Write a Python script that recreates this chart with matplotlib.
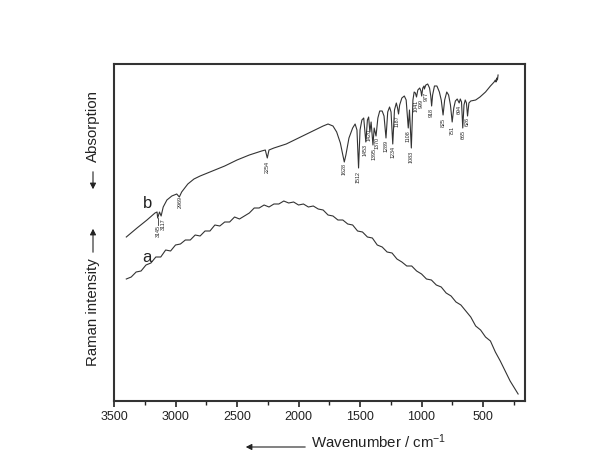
import matplotlib
matplotlib.use("Agg")
import matplotlib.pyplot as plt
from matplotlib.ticker import MultipleLocator

plt.rcParams['font.family'] = ['Liberation Sans', 'DejaVu Sans']
plt.rcParams['mathtext.fontset'] = 'custom'
plt.rcParams['mathtext.rm'] = 'Liberation Sans'
plt.rcParams['mathtext.it'] = 'Liberation Sans'

# ---- curve a: Raman spectrum (wavenumber, intensity a.u.) ----
raman_wn = [3400, 3360, 3320, 3280, 3240, 3200, 3160, 3120, 3080, 3040, 3000, 2960,
            2920, 2880, 2840, 2800, 2760, 2720, 2680, 2640, 2600, 2560, 2520, 2480,
            2440, 2400, 2360, 2320, 2280, 2240, 2200, 2160, 2120, 2080, 2040, 2000,
            1960, 1920, 1880, 1840, 1800, 1760, 1720, 1680, 1640, 1600, 1560, 1520,
            1480, 1440, 1400, 1360, 1320, 1280, 1240, 1200, 1160, 1120, 1080, 1040,
            1000, 960, 920, 880, 840, 800, 760, 720, 680, 640, 600, 560, 520, 480,
            440, 400, 360, 320, 280, 240, 215]
raman_int = [122, 124, 129, 130, 136, 138, 144, 144, 151, 150, 156, 157,
             161, 161, 166, 165, 170, 170, 176, 175, 179, 179, 184, 182,
             185, 188, 193, 193, 196, 194, 197, 197, 200, 198, 199, 196,
             197, 194, 195, 192, 191, 186, 185, 181, 181, 177, 176, 170,
             169, 164, 163, 156, 154, 149, 148, 142, 139, 135, 135, 130,
             127, 122, 121, 116, 114, 108, 105, 99, 96, 90, 84, 75, 71, 64,
             60, 49, 40, 30, 20, 12, 7]

# ---- curve b: FTIR spectrum (wavenumber, transmittance a.u.) ----
ir_wn = [3400, 3313, 3232, 3167, 3150, 3145, 3130, 3117, 3100, 3070, 3030, 2990,
         2969, 2950, 2900, 2850, 2800, 2700, 2600, 2500, 2400, 2300, 2270, 2254,
         2240, 2200, 2100, 2000, 1900, 1800, 1760, 1720, 1690, 1660, 1640, 1628,
         1615, 1590, 1560, 1540, 1525, 1512, 1500, 1485, 1470, 1453, 1440, 1430,
         1420, 1410, 1395, 1385, 1370, 1355, 1340, 1320, 1305, 1289, 1275, 1260,
         1248, 1234, 1220, 1205, 1195, 1187, 1178, 1160, 1140, 1125, 1108, 1098,
         1083, 1070, 1060, 1050, 1041, 1030, 1015, 1005, 999, 990, 980, 977,
         965, 950, 935, 925, 918, 910, 895, 875, 855, 840, 825, 812,
         795, 780, 765, 751, 738, 725, 710, 694, 685, 675, 665, 655,
         645, 635, 626, 615, 600, 560, 525, 480, 440, 410, 400, 395,
         388, 383, 378]
ir_int = [164, 173, 181, 188, 189, 183, 189, 185, 194, 201, 205, 207,
          204, 209, 217, 222, 225, 230, 235, 241, 246, 250, 251, 243,
          251, 253, 257, 263, 269, 275, 277, 275, 269, 258, 246, 239,
          246, 263, 273, 277, 271, 233, 271, 281, 283, 259, 281, 284,
          269, 279, 256, 273, 265, 283, 290, 290, 285, 263, 289, 294,
          289, 257, 291, 298, 293, 287, 296, 303, 305, 301, 273, 291,
          253, 301, 309, 308, 304, 311, 313, 310, 305, 313, 315, 312,
          316, 317, 313, 305, 295, 306, 315, 315, 309, 301, 286, 301,
          309, 306, 296, 279, 293, 300, 302, 298, 302, 299, 273, 296,
          301, 298, 285, 298, 300, 301, 304, 309, 315, 319, 321, 319,
          323, 321, 326]

# ---- peak labels on curve b: (wavenumber, label x, label top height) ----
peak_wn = [3145, 3117, 2969, 2254, 1628, 1512, 1453, 1420, 1395, 1370, 1289, 1234,
           1187, 1108, 1083, 1041, 999, 977, 918, 825, 751, 694, 665, 626]
peak_pos = [3140, 3098, 2965, 2254, 1628, 1512, 1460, 1425, 1390, 1362, 1289, 1234,
            1195, 1110, 1083, 1046, 1001, 964, 918, 825, 751, 694, 665, 626]
peak_top = [176, 183, 205, 240, 238, 230, 257, 272, 253, 264, 261, 255,
            286, 271, 250, 301, 302, 309, 293, 283, 275, 296, 271, 284]

xticks = [3500, 3000, 2500, 2000, 1500, 1000, 500]

W, H = 606, 473
fig = plt.figure(figsize=(W / 100, H / 100), dpi=100)
ax = fig.add_axes([114 / W, 72 / H, 411 / W, 337 / H])

lc = '#333333'
ax.plot(raman_wn, raman_int, color=lc, lw=0.8)
ax.plot(ir_wn, ir_int, color=lc, lw=0.8)

for wn, pos, top in zip(peak_wn, peak_pos, peak_top):
    ax.text(pos, top, str(wn), rotation=90, ha='center', va='top',
            fontsize=3.9, color='#222222')
# leader line for 3145 / 3117
ax.plot([3145, 3145], [183, 176], color=lc, lw=0.6)

ax.text(3230, 143, 'a', fontsize=12, ha='center', va='center', color='#222222')
ax.text(3230, 198, 'b', fontsize=12, ha='center', va='center', color='#222222')

ax.set_xlim(3500, 159)
ax.set_ylim(0, 337)
ax.set_xticks(xticks)
ax.set_xticklabels([str(t) for t in xticks])
ax.xaxis.set_minor_locator(MultipleLocator(250))
ax.set_yticks([])
ax.tick_params(axis='x', which='major', direction='out', length=4, width=1.2,
               labelsize=9, pad=3, colors='#222222')
ax.tick_params(axis='x', which='minor', direction='out', length=3, width=1.0,
               colors='#222222')
for s in ax.spines.values():
    s.set_linewidth(1.5)
    s.set_color('#333333')

# x label with arrow
fig.text(379 / W, 1 - 442 / H, 'Wavenumber / cm$^{-1}$', fontsize=10.8,
         ha='center', va='center', color='#222222')
fig.add_artist(matplotlib.patches.FancyArrowPatch(
    (308 / W, 1 - 447 / H), (243 / W, 1 - 447 / H), transform=fig.transFigure,
    arrowstyle='-|>,head_length=3.5,head_width=1.8', color='#222222', lw=0.8))

# y labels with arrows
fig.text(93 / W, 1 - 312 / H, 'Raman intensity', fontsize=10.8, rotation=90,
         ha='center', va='center', color='#222222')
fig.text(93 / W, 1 - 126 / H, 'Absorption', fontsize=10.8, rotation=90,
         ha='center', va='center', color='#222222')
fig.add_artist(matplotlib.patches.FancyArrowPatch(
    (93 / W, 1 - 255 / H), (93 / W, 1 - 226 / H), transform=fig.transFigure,
    arrowstyle='-|>,head_length=3.5,head_width=1.8', color='#222222', lw=0.8))
fig.add_artist(matplotlib.patches.FancyArrowPatch(
    (93 / W, 1 - 169 / H), (93 / W, 1 - 192 / H), transform=fig.transFigure,
    arrowstyle='-|>,head_length=3.5,head_width=1.8', color='#222222', lw=0.8))

fig.savefig('out.png', dpi=100, facecolor='white')
